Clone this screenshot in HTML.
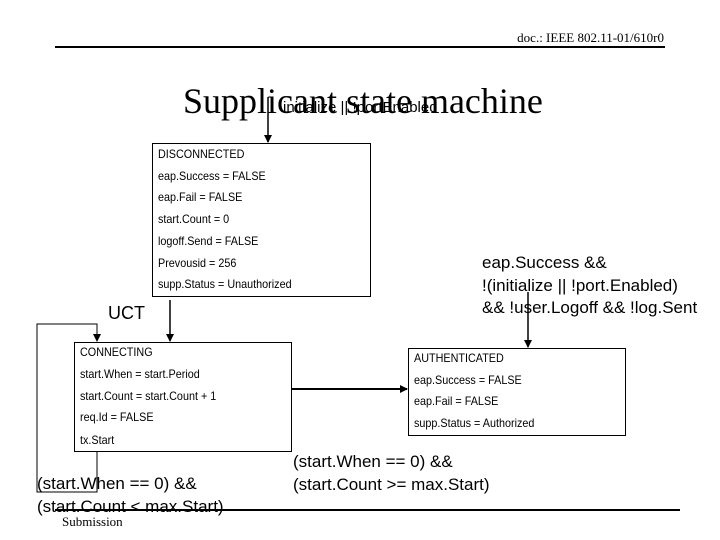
<!DOCTYPE html>
<html><head><style>
body{margin:0;width:720px;height:540px;background:#fff;position:relative;overflow:hidden;font-family:"Liberation Sans",sans-serif;}
.t{position:absolute;white-space:nowrap;color:#000;line-height:1;}
.s{font-size:12px;transform:scaleX(0.9);transform-origin:left;}
.b{font-size:17px;}
.box{position:absolute;border:1px solid #000;box-sizing:border-box;}
</style></head><body>
<div class="t" style="right:56px;top:31px;font-family:'Liberation Serif',serif;font-size:13px;">doc.: IEEE 802.11-01/610r0</div>
<div style="position:absolute;left:55px;top:46px;width:610px;height:2px;background:#000"></div>
<div class="t" style="left:183px;top:83px;font-family:'Liberation Serif',serif;font-size:36px;">Supplicant state machine</div>
<div class="t" style="left:283px;top:100px;font-size:15px;">initialize || !portEnabled</div>

<div class="box" style="left:152px;top:143px;width:219px;height:154px"></div>
<div class="t s" style="left:158px;top:148px">DISCONNECTED</div>
<div class="t s" style="left:158px;top:170px">eap.Success = FALSE</div>
<div class="t s" style="left:158px;top:191px">eap.Fail = FALSE</div>
<div class="t s" style="left:158px;top:213px">start.Count = 0</div>
<div class="t s" style="left:158px;top:235px">logoff.Send = FALSE</div>
<div class="t s" style="left:158px;top:257px">Prevousid = 256</div>
<div class="t s" style="left:158px;top:278px">supp.Status = Unauthorized</div>

<div class="t" style="left:108px;top:304px;font-size:18px;">UCT</div>

<div class="box" style="left:74px;top:342px;width:218px;height:110px"></div>
<div class="t s" style="left:80px;top:346px">CONNECTING</div>
<div class="t s" style="left:80px;top:368px">start.When = start.Period</div>
<div class="t s" style="left:80px;top:390px">start.Count = start.Count + 1</div>
<div class="t s" style="left:80px;top:411px">req.Id = FALSE</div>
<div class="t s" style="left:80px;top:434px">tx.Start</div>

<div class="box" style="left:408px;top:348px;width:218px;height:88px"></div>
<div class="t s" style="left:414px;top:352px">AUTHENTICATED</div>
<div class="t s" style="left:414px;top:374px">eap.Success = FALSE</div>
<div class="t s" style="left:414px;top:395px">eap.Fail = FALSE</div>
<div class="t s" style="left:414px;top:417px">supp.Status = Authorized</div>

<div class="t b" style="left:482px;top:254px">eap.Success &amp;&amp;</div>
<div class="t b" style="left:482px;top:277px">!(initialize || !port.Enabled)</div>
<div class="t b" style="left:482px;top:299px">&amp;&amp; !user.Logoff &amp;&amp; !log.Sent</div>

<div class="t b" style="left:293px;top:453px">(start.When == 0) &amp;&amp;</div>
<div class="t b" style="left:293px;top:476px">(start.Count &gt;= max.Start)</div>
<div class="t b" style="left:37px;top:475px">(start.When == 0) &amp;&amp;</div>
<div class="t b" style="left:37px;top:498px">(start.Count &lt; max.Start)</div>

<div style="position:absolute;left:55px;top:509px;width:625px;height:2px;background:#000"></div>
<div class="t" style="left:62px;top:515px;font-family:'Liberation Serif',serif;font-size:13px;">Submission</div>

<svg width="720" height="540" style="position:absolute;left:0;top:0" fill="none" stroke="#000" stroke-width="1.5">
<defs><marker id="a" markerWidth="8" markerHeight="8" refX="7" refY="4" orient="auto" markerUnits="userSpaceOnUse"><path d="M0,0L8,4L0,8z" fill="#000" stroke="none"/></marker></defs>
<line x1="268" y1="97" x2="268" y2="142" marker-end="url(#a)"/>
<line x1="170" y1="300" x2="170" y2="341" marker-end="url(#a)"/>
<polyline points="97,452 97,492 37,492 37,324 97,324 97,341" marker-end="url(#a)" stroke-width="1"/>
<line x1="292" y1="389" x2="407" y2="389" stroke-width="2" marker-end="url(#a)"/>
<line x1="528" y1="292" x2="528" y2="347" marker-end="url(#a)"/>
</svg>
</body></html>
